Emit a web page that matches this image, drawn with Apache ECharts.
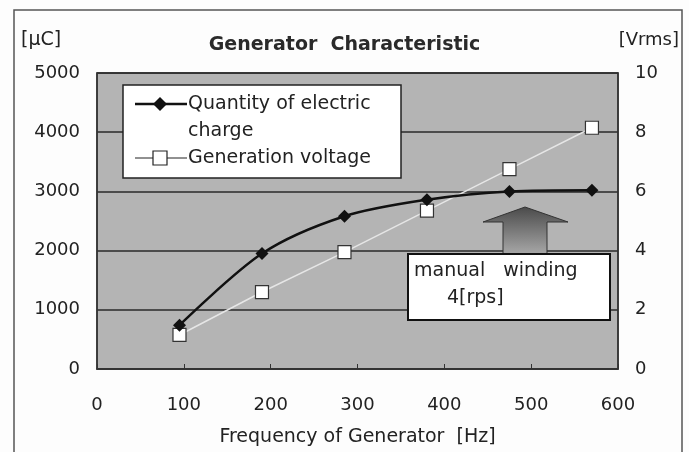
<!DOCTYPE html>
<html>
<head>
    <meta charset="utf-8">
    <title>Generator Characteristic</title>
    <style>
        html, body { margin: 0; padding: 0; background: #fdfdfd; }
        #chart { width: 689px; height: 452px; }
    </style>
</head>
<body>
    <div id="chart"></div>
    <script src="https://cdn.jsdelivr.net/npm/echarts@6/dist/echarts.min.js"></script>
    <script>
        // 数据
        var freq = [95, 190, 285, 380, 475, 570];              // Hz
        var charge = [740, 1950, 2580, 2860, 3000, 3020];       // μC
        var voltage = [1.15, 2.6, 3.95, 5.35, 6.75, 8.15];      // Vrms
        var xTicks = [0, 100, 200, 300, 400, 500, 600];

        var font = '"DejaVu Sans", sans-serif';
        var txt = '#222';

        var chart = echarts.init(document.getElementById('chart'));

        var pairs = function (ys) {
            return freq.map(function (x, i) { return [x, ys[i]]; });
        };

        var option = {
            backgroundColor: '#fdfdfd',
            animation: false,
            title: {
                text: 'Generator  Characteristic',
                left: 'center',
                top: 31,
                textStyle: { fontFamily: font, fontSize: 19, fontWeight: 'bold', color: '#2a2a2a' }
            },
            grid: {
                left: 97, right: 71, top: 73, bottom: 80,
                show: true,
                backgroundColor: '#b4b4b4',
                borderColor: '#333',
                borderWidth: 1.5
            },
            xAxis: {
                type: 'value',
                min: 0, max: 600, interval: 100,
                name: 'Frequency of Generator  [Hz]',
                nameLocation: 'middle',
                nameGap: 59,
                nameTextStyle: { fontFamily: font, fontSize: 19, color: txt },
                axisLine: { lineStyle: { color: '#333', width: 1.5 } },
                axisTick: { inside: true, length: 5, lineStyle: { color: '#333' } },
                axisLabel: { margin: 27, fontFamily: font, fontSize: 18, color: txt,
                    formatter: function (v) { return xTicks.indexOf(v) >= 0 ? String(v) : ''; } },
                splitLine: { show: false }
            },
            yAxis: [{
                type: 'value',
                min: 0, max: 5000, interval: 1000,
                axisLine: { show: true, lineStyle: { color: '#333', width: 1.5 } },
                axisTick: { show: false },
                axisLabel: { margin: 17, fontFamily: font, fontSize: 18, color: txt,
                    formatter: function (v) { return String(v); } },
                splitLine: { lineStyle: { color: '#2a2a2a', width: 1.5 } }
            }, {
                type: 'value',
                min: 0, max: 10, interval: 2,
                axisLine: { show: true, lineStyle: { color: '#333', width: 1.5 } },
                axisTick: { show: false },
                axisLabel: { margin: 17, fontFamily: font, fontSize: 18, color: txt },
                splitLine: { show: false }
            }],
            series: [{
                name: 'Quantity of electric charge',
                type: 'line',
                smooth: 0.3,
                data: pairs(charge),
                symbol: 'diamond',
                symbolSize: 13,
                itemStyle: { color: '#111' },
                lineStyle: { color: '#111', width: 2.5 },
                z: 3
            }, {
                name: 'Generation voltage',
                type: 'line',
                yAxisIndex: 1,
                data: pairs(voltage),
                symbol: 'rect',
                symbolSize: 13,
                itemStyle: { color: '#fff', borderColor: '#333', borderWidth: 1.2 },
                lineStyle: { color: '#e6e6e6', width: 1.5 },
                z: 2
            }],
            graphic: [
                // 单位
                { type: 'text', left: 21, top: 31,
                  style: { text: '[μC]', font: '19px ' + font, fill: txt } },
                { type: 'text', right: 10, top: 31,
                  style: { text: '[Vrms]', font: '18px ' + font, fill: txt } },
                // 外框
                { type: 'rect', shape: { x: 14, y: 10, width: 668, height: 460 },
                  style: { fill: 'none', stroke: '#555', lineWidth: 1.5 }, z: 100 },
                // 图例
                { type: 'rect', shape: { x: 123, y: 85, width: 278, height: 93 },
                  style: { fill: '#fff', stroke: '#222', lineWidth: 1.5 }, z: 100 },
                { type: 'line', shape: { x1: 135, y1: 104, x2: 187, y2: 104 },
                  style: { stroke: '#111', lineWidth: 2.5 }, z: 101 },
                { type: 'polygon', shape: { points: [[160, 97], [167, 104], [160, 111], [153, 104]] },
                  style: { fill: '#111' }, z: 102 },
                { type: 'text', x: 188, y: 104,
                  style: { text: 'Quantity of electric', font: '19px ' + font, fill: txt, verticalAlign: 'middle' }, z: 101 },
                { type: 'text', x: 188, y: 131,
                  style: { text: 'charge', font: '19px ' + font, fill: txt, verticalAlign: 'middle' }, z: 101 },
                { type: 'line', shape: { x1: 135, y1: 158, x2: 187, y2: 158 },
                  style: { stroke: '#222', lineWidth: 1 }, z: 101 },
                { type: 'rect', shape: { x: 153, y: 151, width: 14, height: 14 },
                  style: { fill: '#fff', stroke: '#222', lineWidth: 1.2 }, z: 102 },
                { type: 'text', x: 188, y: 158,
                  style: { text: 'Generation voltage', font: '19px ' + font, fill: txt, verticalAlign: 'middle' }, z: 101 },
                // 箭头
                { type: 'polygon',
                  shape: { points: [[483, 222], [525, 207], [568, 222], [547, 222], [547, 254], [503, 254], [503, 222]] },
                  style: {
                      fill: new echarts.graphic.LinearGradient(0, 0, 0, 1, [
                          { offset: 0, color: '#4a4a4a' },
                          { offset: 1, color: '#a8a8a8' }
                      ]),
                      stroke: '#333', lineWidth: 1
                  }, z: 100 },
                // 注释框
                { type: 'rect', shape: { x: 408, y: 254, width: 202, height: 66 },
                  style: { fill: '#fff', stroke: '#111', lineWidth: 2 }, z: 100 },
                { type: 'text', x: 414, y: 271,
                  style: { text: 'manual   winding', font: '19px ' + font, fill: txt, verticalAlign: 'middle' }, z: 101 },
                { type: 'text', x: 447, y: 298,
                  style: { text: '4[rps]', font: '19px ' + font, fill: txt, verticalAlign: 'middle' }, z: 101 }
            ]
        };

        chart.setOption(option);
        window.addEventListener('resize', function () { chart.resize(); });
    </script>
</body>
</html>
